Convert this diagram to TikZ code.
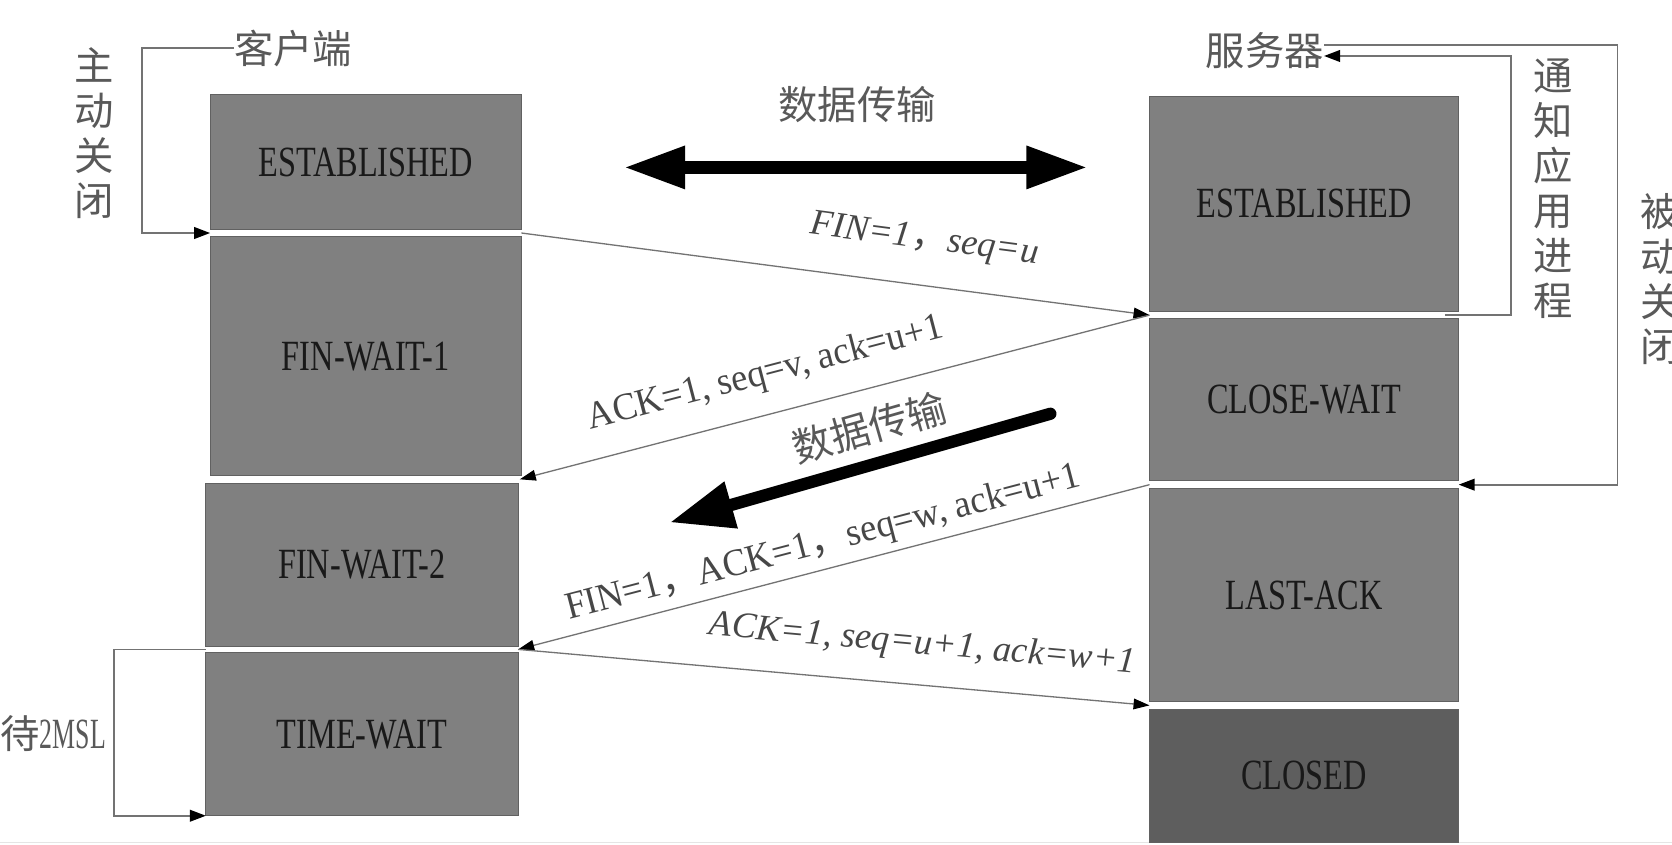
\documentclass[tikz,border=0pt]{standalone}
\usepackage{fontspec}
\setmainfont{Liberation Serif}
\newfontfamily\cjkf{Noto Sans CJK SC}
\newfontfamily\boxf[FakeStretch=0.75]{Liberation Serif}
\newfontfamily\mslf[FakeStretch=0.6]{Liberation Serif}
\newfontfamily\labf[FakeStretch=0.95]{Liberation Serif}
\newfontfamily\itf{Liberation Serif}
\usetikzlibrary{arrows.meta,calc}
\tikzset{
  st/.style={draw=black!62, line width=0.5pt, fill=black!50, inner sep=0pt, outer sep=0pt,
    text=black!90, font={\boxf\fontsize{23}{26}\selectfont}},
  conn/.style={draw=black!55, line width=0.7pt, -{Triangle[length=0.3cm,width=0.2cm,color=black]}},
  fb/.style={draw=black!55, line width=0.9pt, -{Triangle[length=0.3cm,width=0.22cm,color=black]}},
  zh/.style={text=black!65, font={\cjkf\fontsize{21}{24}\selectfont}, inner sep=0pt, align=center},
  labu/.style={text=black!72, inner sep=0pt, font={\labf\fontsize{20.5}{23}\selectfont}},
  labi/.style={text=black!72, inner sep=0pt, font={\itf\itshape\fontsize{19.5}{22}\selectfont}},
  big/.style={line width=0.23cm, draw=black},
}
\begin{document}
\begin{tikzpicture}[x=0.02cm,y=-0.02cm]
\path[use as bounding box, fill=white] (0,0) rectangle (1568,792);
\draw[black!10, line width=0.6pt] (0,790) -- (1568,790);

% client states
\node[st, minimum width=5.84cm, minimum height=2.52cm] (cE) at (343,152) {ESTABLISHED};
\node[st, minimum width=5.84cm, minimum height=4.48cm] (cF1) at (343,334) {FIN-WAIT-1};
\node[st, minimum width=5.86cm, minimum height=3.06cm] (cF2) at (339.5,529.5) {FIN-WAIT-2};
\node[st, minimum width=5.86cm, minimum height=3.06cm] (cT) at (339.5,688.5) {TIME-WAIT};

% server states
\node[st, minimum width=5.8cm, minimum height=4.04cm] (sE) at (1223,191) {ESTABLISHED};
\node[st, minimum width=5.8cm, minimum height=3.04cm] (sC) at (1223,375) {CLOSE-WAIT};
\node[st, minimum width=5.8cm, minimum height=4.0cm] (sL) at (1223,558) {LAST-ACK};
\node[st, fill=black!63, minimum width=5.8cm, minimum height=2.5cm] (sX) at (1223,727.5) {CLOSED};

% gap points
\coordinate (gl1) at ($(cE.south east)!0.5!(cF1.north east)$);
\coordinate (gl2) at ($(cF1.south east)!0.5!(cF2.north east)$);
\coordinate (gl3) at ($(cF2.south east)!0.5!(cT.north east)$);
\coordinate (gL1) at ($(cE.south west)!0.5!(cF1.north west)$);
\coordinate (gL3) at ($(cF2.south west)!0.5!(cT.north west)$);
\coordinate (gr1) at ($(sE.south west)!0.5!(sC.north west)$);
\coordinate (gr2) at ($(sC.south west)!0.5!(sL.north west)$);
\coordinate (gr3) at ($(sL.south west)!0.5!(sX.north west)$);
\coordinate (gR1) at ($(sE.south east)!0.5!(sC.north east)$);
\coordinate (gR2) at ($(sC.south east)!0.5!(sL.north east)$);

% titles and side labels
\node[zh] (cli) at (275,45) {客户端};
\node[zh] (srv) at (1186,47) {服务器};
\node[zh] (zd) at (88,125) {主\\动\\关\\闭};
\node[zh] (tz) at (1457,177) {通\\知\\应\\用\\进\\程};
\node[zh] (bd) at (1557,262) {被\\动\\关\\闭};
\node[zh] (msl) at (50,688) {待{\mslf\fontsize{23}{26}\selectfont 2MSL}};
\node[zh] (dt1) at (804,98) {数据传输};
\node[zh, rotate=16] (dt2) at (815,401) {数据传输};

% feedback brackets
\coordinate (lx) at (133,0);
\coordinate (mx) at (107,0);
\coordinate (ix) at (1417,0);
\coordinate (ox) at (1517,0);
\draw[fb] (cli.west) -- (cli.west -| lx) |- (gL1);
\draw[fb] (gL3) -- (gL3 -| mx) |- (cT.south west);
\coordinate (srvI) at ([yshift=-0.11cm]srv.east);
\coordinate (srvO) at ([yshift=0.09cm]srv.east);
\coordinate (gR1s) at ([xshift=-0.26cm]gR1);
\draw[fb] (gR1s) -- (gR1 -| ix) |- (srvI);
\draw[fb] (srvO) -- (srvO -| ox) |- (gR2);

% thick data arrows
\coordinate (dL) at (585,157);
\coordinate (dR) at (1020,157);
\draw[big, {Triangle[length=1.15cm,width=0.75cm]}-{Triangle[length=1.15cm,width=0.75cm]}] (dL) -- (dR);
\coordinate (dA) at (985,388);
\coordinate (dB) at (628,490);
\draw[big, line cap=round, -{Triangle[length=1.2cm,width=0.85cm]}] (dA) -- (dB);

% segment connectors
\draw[conn] (gl1) -- (gr1);
\draw[conn] (gr1) -- (gl2);
\draw[conn] (gr2) -- (gl3);
\draw[conn] (gl3) -- (gr3);

% connector labels
\node[labi, rotate=-7.45] (l1) at ($(gl1)!0.632!(gr1)!0.84cm!90:(gr1)$) {FIN=1{\cjkf ，}seq=u};
\node[labu, rotate=14.63] (l2) at ($(gl2)!0.406!(gr1)!0.74cm!90:(gr1)$) {ACK=1, seq=v, ack=u+1};
\node[labu, rotate=14.63] (l3) at ($(gl3)!0.493!(gr2)!0.47cm!90:(gr2)$) {FIN=1{\cjkf ，}ACK=1{\cjkf ，}seq=w, ack=u+1};
\node[labi, rotate=-5.07] (l4) at ($(gl3)!0.635!(gr3)!0.75cm!90:(gr3)$) {ACK=1, seq=u+1, ack=w+1};
\end{tikzpicture}
\end{document}
